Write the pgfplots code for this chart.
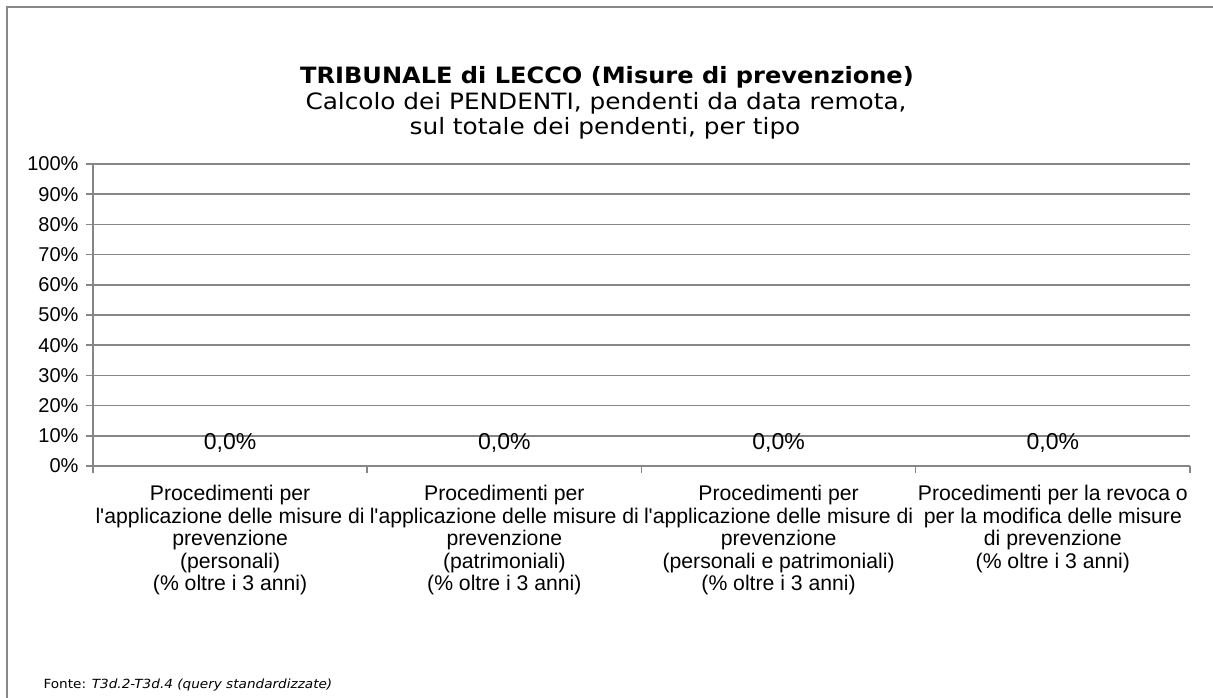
\documentclass[border=0pt]{standalone}
\usepackage{pgfplots}
\pgfplotsset{compat=1.18}
\usepackage{fontspec}
\setmainfont{Liberation Sans}
\newfontfamily\verdanab[FakeStretch=1.07]{DejaVu Sans}
\newfontfamily\verdana[FakeStretch=1.10]{DejaVu Sans}
\newfontfamily\verdanas[FakeStretch=1.08]{DejaVu Sans}
\definecolor{gridgray}{RGB}{134,134,134}
\definecolor{framegray}{RGB}{136,136,136}
\newcommand{\ap}{\XeTeXglyph\XeTeXcharglyph"0027\relax}

\begin{document}
\begin{tikzpicture}[x=1pt,y=1pt]
\useasboundingbox (0,0) rectangle (1213,698);
\fill[white] (0,0) rectangle (1213,698);
\draw[framegray, line width=2pt] (7,0) -- (7,691) -- (1213,691);

% titles
\node[anchor=base, font=\verdanab\bfseries\fontsize{22.5}{26}\selectfont] at (607,614) {TRIBUNALE di LECCO (Misure di prevenzione)};
\node[anchor=base, font=\verdana\fontsize{22.5}{26}\selectfont] at (606,588) {Calcolo dei PENDENTI, pendenti da data remota,};
\node[anchor=base, font=\verdana\fontsize{22.5}{26}\selectfont] at (605,563) {sul totale dei pendenti, per tipo};

\begin{axis}[
  at={(93pt,232pt)}, anchor=south west,
  width=1097pt, height=302pt, scale only axis,
  xmin=-0.5, xmax=3.5, ymin=0, ymax=100,
  axis x line*=bottom, axis y line*=left,
  axis line style={gridgray, line width=1.5pt},
  ymajorgrids, grid style={gridgray, line width=1.5pt},
  tick align=outside, major tick length=7pt,
  tick style={gridgray, line width=1.5pt},
  ytick={0,10,...,100},
  yticklabel={\pgfmathprintnumber{\tick}\%},
  yticklabel style={font=\fontsize{20}{24}\selectfont, xshift=-4pt},
  xtick={-0.5,0.5,1.5,2.5,3.5}, xticklabels={},
  extra x ticks={0,1,2,3},
  extra x tick labels={
    {Procedimenti per\\l\ap applicazione delle misure di\\prevenzione\\(personali)\\(\% oltre i 3 anni)},
    {Procedimenti per\\l\ap applicazione delle misure di\\prevenzione\\(patrimoniali)\\(\% oltre i 3 anni)},
    {Procedimenti per\\l\ap applicazione delle misure di\\prevenzione\\(personali e patrimoniali)\\(\% oltre i 3 anni)},
    {Procedimenti per la revoca o\\per la modifica delle misure\\di prevenzione\\(\% oltre i 3 anni)}},
  extra x tick style={major tick length=0pt, tick style={draw=none},
    xticklabel style={align=center, anchor=north, yshift=-16pt,
      font=\fontsize{21.2}{22.5}\selectfont}},
  /pgf/number format/assume math mode=true,
  clip=false,
]
\addplot[draw=none, mark=none,
  nodes near coords={\pgfmathprintnumber[fixed,fixed zerofill,precision=1,use comma]{\pgfplotspointmeta}\%},
  every node near coord/.append style={anchor=base, yshift=16pt, font=\fontsize{23}{26}\selectfont, text=black}]
  coordinates {(0,0) (1,0) (2,0) (3,0)};
\end{axis}

\node[anchor=base west, font=\verdanas\fontsize{12.6}{16}\selectfont] at (40,9) {Fonte: \textit{T3d.2-T3d.4 (query standardizzate)}};
\end{tikzpicture}
\end{document}
